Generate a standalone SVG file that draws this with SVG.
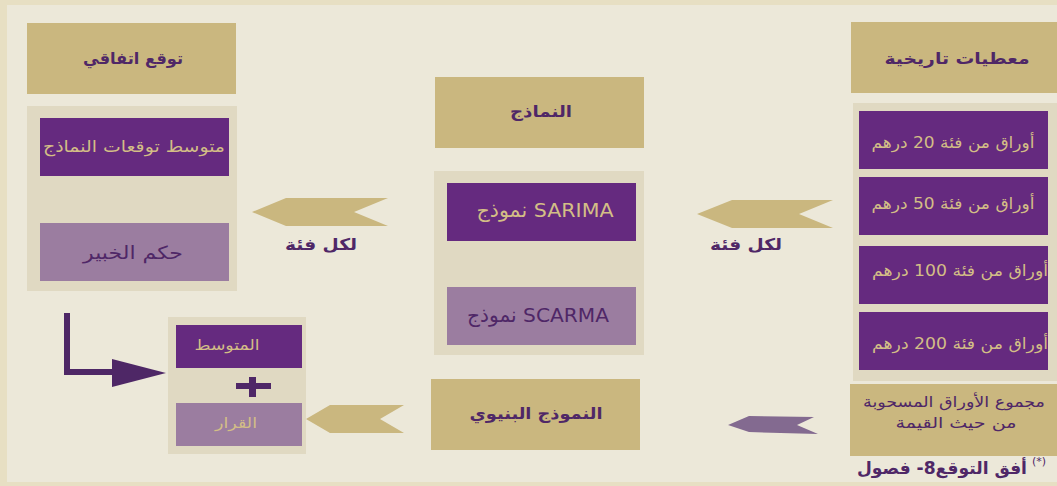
<svg xmlns="http://www.w3.org/2000/svg" width="1057" height="486" viewBox="0 0 1057 486">
<style>
.hdr{fill:#cab77f}
.cont{fill:#e0d9c2}
.pp{fill:#652a7f}
.lp{fill:#9b7da0}
.t{font-family:"DejaVu Sans","Noto Sans",sans-serif;text-anchor:middle;dominant-baseline:central}
.dk{fill:#4f2767}
.gd{fill:#d3be86}
.b{font-weight:bold}
.garr{fill:#cab77f}
.parr{fill:#836a90}
</style>
<rect x="0" y="0" width="1057" height="486" fill="#e7dfc3"/>
<rect x="7" y="5" width="1050" height="477" fill="#ece8d9"/>

<g id="connectors">
  <polygon class="garr" points="252,212 286,198 388,198 354,212 388,226 286,226"/>
  <polygon class="garr" points="697,214 732,200 833,200 799,214 833,228 732,228"/>
  <polygon class="garr" points="306,419 330,405 404,405 380,419 404,433 330,433"/>
  <polygon class="parr" points="728,425 749,416 814,417 797,425 818,434 749,432"/>
  <polyline points="67,313 67,372 114,372" fill="none" stroke="#4e2766" stroke-width="6"/>
  <polygon points="112,359 166,373 112,387" fill="#4e2766"/>
  <text class="t dk b" x="321" y="244" font-size="16" textLength="72" lengthAdjust="spacingAndGlyphs">لكل فئة</text>
  <text class="t dk b" x="746" y="244" font-size="16" textLength="72" lengthAdjust="spacingAndGlyphs">لكل فئة</text>
</g>

<g id="node-consensus">
  <rect class="hdr" x="27" y="23" width="209" height="71"/>
  <text class="t dk b" x="133" y="58" font-size="16" textLength="100" lengthAdjust="spacingAndGlyphs">توقع اتفاقي</text>
</g>
<g id="node-left-container">
  <rect class="cont" x="27" y="106" width="210" height="185"/>
  <rect class="pp" x="40" y="118" width="189" height="58"/>
  <text class="t gd" x="134" y="146" font-size="16" textLength="182" lengthAdjust="spacingAndGlyphs">متوسط توقعات النماذج</text>
  <rect class="lp" x="40" y="223" width="189" height="58"/>
  <text class="t dk" x="133" y="252" font-size="18" textLength="100" lengthAdjust="spacingAndGlyphs">حكم الخبير</text>
</g>

<g id="node-models">
  <rect class="hdr" x="435" y="77" width="209" height="71"/>
  <text class="t dk b" x="541" y="111" font-size="16" textLength="62" lengthAdjust="spacingAndGlyphs">النماذج</text>
</g>
<g id="node-models-container">
  <rect class="cont" x="434" y="171" width="210" height="184"/>
  <rect class="pp" x="447" y="183" width="189" height="58"/>
  <text class="t gd" x="545" y="210" font-size="20" textLength="137" lengthAdjust="spacingAndGlyphs">نموذج SARIMA</text>
  <rect class="lp" x="447" y="287" width="189" height="58"/>
  <text class="t dk" x="538" y="315" font-size="20" textLength="142" lengthAdjust="spacingAndGlyphs">نموذج SCARMA</text>
</g>

<g id="node-history">
  <rect class="hdr" x="851" y="22" width="206" height="71"/>
  <text class="t dk b" x="957" y="58" font-size="16" textLength="145" lengthAdjust="spacingAndGlyphs">معطيات تاريخية</text>
</g>
<g id="node-history-container">
  <rect class="cont" x="853" y="103" width="204" height="278"/>
  <rect class="pp" x="859" y="111" width="189" height="58"/>
  <text class="t gd" x="953" y="142" font-size="16" direction="rtl" textLength="163" lengthAdjust="spacingAndGlyphs">أوراق من فئة 20 درهم</text>
  <rect class="pp" x="859" y="177" width="189" height="58"/>
  <text class="t gd" x="953" y="203" font-size="16" direction="rtl" textLength="163" lengthAdjust="spacingAndGlyphs">أوراق من فئة 50 درهم</text>
  <rect class="pp" x="859" y="246" width="189" height="58"/>
  <text class="t gd" x="960" y="270" font-size="16" direction="rtl" textLength="176" lengthAdjust="spacingAndGlyphs">أوراق من فئة 100 درهم</text>
  <rect class="pp" x="859" y="312" width="189" height="58"/>
  <text class="t gd" x="960" y="343" font-size="16" direction="rtl" textLength="176" lengthAdjust="spacingAndGlyphs">أوراق من فئة 200 درهم</text>
</g>

<g id="node-total">
  <rect class="hdr" x="850" y="384" width="207" height="72"/>
  <text class="t dk" x="954" y="402" font-size="15" textLength="182" lengthAdjust="spacingAndGlyphs">مجموع الأوراق المسحوبة</text>
  <text class="t dk" x="956" y="423" font-size="15" textLength="121" lengthAdjust="spacingAndGlyphs">من حيث القيمة</text>
</g>

<g id="node-structural">
  <rect class="hdr" x="431" y="379" width="209" height="71"/>
  <text class="t dk b" x="536" y="413" font-size="16" textLength="133" lengthAdjust="spacingAndGlyphs">النموذج البنيوي</text>
</g>

<g id="node-decision">
  <rect class="cont" x="168" y="317" width="138" height="137"/>
  <rect class="pp" x="176" y="325" width="126" height="43"/>
  <text class="t gd" x="227" y="345" font-size="15" textLength="65" lengthAdjust="spacingAndGlyphs">المتوسط</text>
  <rect x="236" y="383" width="35" height="6" fill="#4f2767"/>
  <rect x="249" y="377" width="7" height="20" fill="#4f2767"/>
  <rect class="lp" x="176" y="403" width="126" height="43"/>
  <text class="t gd" x="236" y="423" font-size="15" textLength="42" lengthAdjust="spacingAndGlyphs">القرار</text>
</g>

<g id="footnote">
  <text class="t dk b" x="942" y="468" font-size="17" direction="rtl" textLength="170" lengthAdjust="spacingAndGlyphs">أفق التوقع8- فصول</text>
  <text class="t dk" x="1039" y="461" font-size="11">(*)</text>
</g>
</svg>
